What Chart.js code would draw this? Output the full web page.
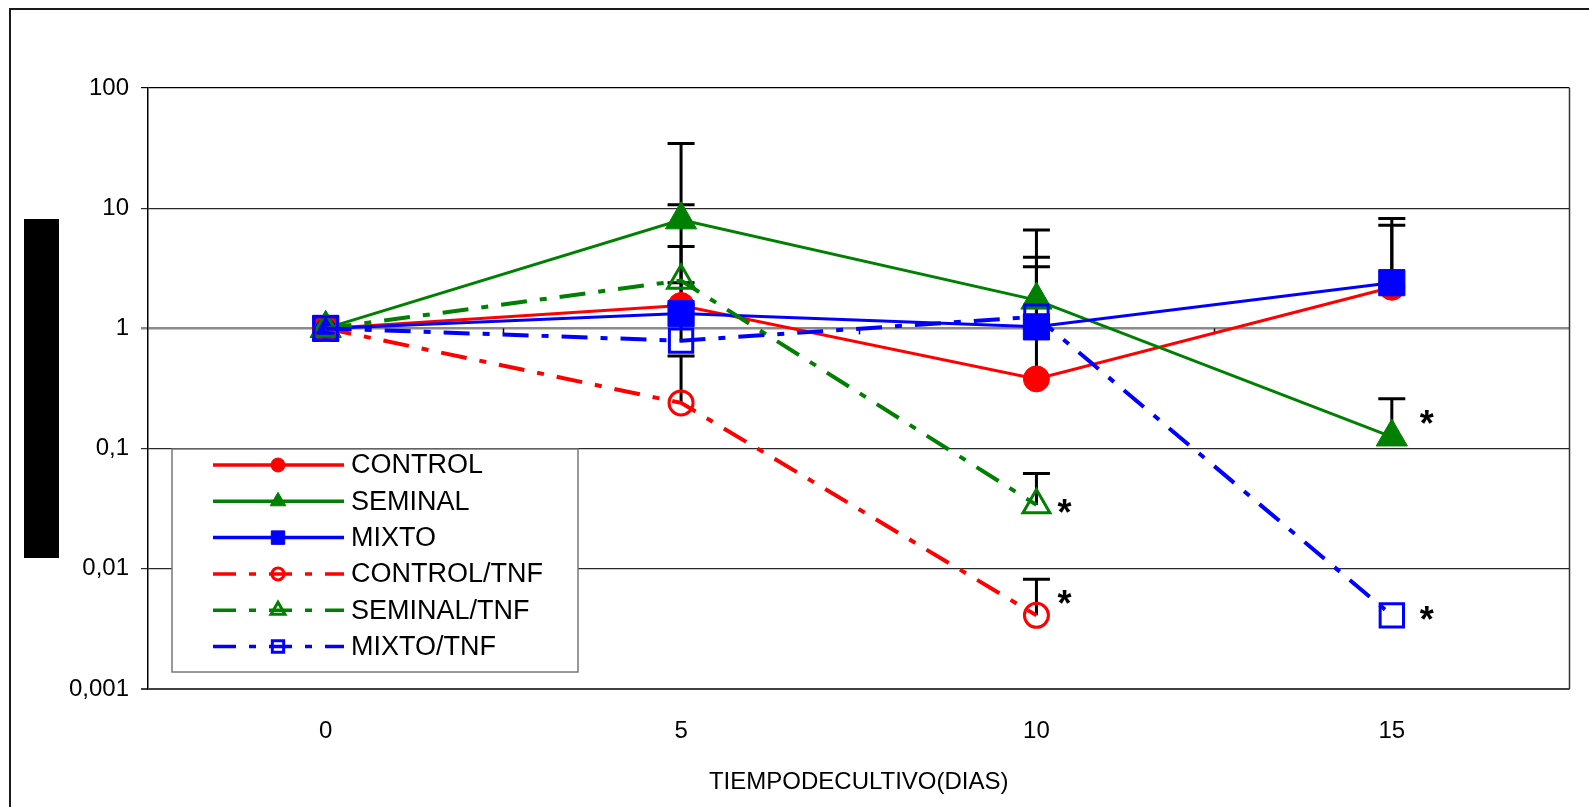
<!DOCTYPE html>
<html>
<head>
<meta charset="utf-8">
<script src="https://cdn.jsdelivr.net/npm/chart.js@4/dist/chart.umd.min.js"></script>
<style>
  body { margin: 0; background: #fff; }
  #wrap { width: 1589px; height: 807px; }
</style>
</head>
<body>
<div id="wrap"><canvas id="cultivoChart" width="1589" height="807"></canvas></div>
<script>
// culture days on the x axis
const dias = ['0', '5', '10', '15'];

const seriesNames = ['CONTROL', 'SEMINAL', 'MIXTO', 'CONTROL/TNF', 'SEMINAL/TNF', 'MIXTO/TNF'];

// mean values per day
const control    = [1, 1.55, 0.38, 2.2];
const seminal    = [1, 8.0, 1.72, 0.125];
const mixto      = [1, 1.33, 1.03, 2.4];
const controlTnf = [1, 0.24, 0.0041, null];
const seminalTnf = [1, 2.5, 0.034, null];
const mixtoTnf   = [1, 0.79, 1.25, 0.0041];

// upper end of each error bar (null = no bar)
const controlErr    = [null, 4.8, 3.9, 7.2];
const seminalErr    = [null, 34.6, 6.6, 0.26];
const mixtoErr      = [null, 2.4, null, 8.2];
const controlTnfErr = [null, 0.59, 0.0082, null];
const seminalTnfErr = [null, 10.7, 0.062, null];
const mixtoTnfErr   = [null, 1.58, 3.25, null];

const yTickValues = [0.001, 0.01, 0.1, 1, 10, 100];
const yTickLabels = ['0,001', '0,01', '0,1', '1', '10', '100'];

// significance marks: series index, day index
const significance = [[4, 2], [3, 2], [1, 3], [5, 3]];

const allValues = [control, seminal, mixto, controlTnf, seminalTnf, mixtoTnf];
const allErrors = [controlErr, seminalErr, mixtoErr, controlTnfErr, seminalTnfErr, mixtoTnfErr];

const RED = '#ff0000', GREEN = '#008000', BLUE = '#0000ff';
const dashDot = [26, 13, 7, 13];
const FONT = '"Liberation Sans", Arial, sans-serif';

const styles = [
  { color: RED,   style: 'circle',   radius: 13,   open: false, legendR: 7 },
  { color: GREEN, style: 'triangle', radius: 18,   open: false, legendR: 9 },
  { color: BLUE,  style: 'rect',     radius: 18.5, open: false, legendR: 9.5 },
  { color: RED,   style: 'circle',   radius: 12,   open: true,  legendR: 6 },
  { color: GREEN, style: 'triangle', radius: 15.5, open: true,  legendR: 8 },
  { color: BLUE,  style: 'rect',     radius: 16.5, open: true,  legendR: 8 }
];

const datasets = seriesNames.map((name, i) => {
  const s = styles[i];
  return {
    label: name,
    data: allValues[i],
    borderColor: s.color,
    borderWidth: s.open ? 4 : 3,
    borderDash: s.open ? dashDot : [],
    pointStyle: s.style,
    pointRadius: s.radius,
    pointBackgroundColor: s.open ? 'transparent' : s.color,
    pointBorderColor: s.color,
    pointBorderWidth: s.open ? 3 : 1,
    tension: 0,
    spanGaps: false,
    order: seriesNames.length - i
  };
});

const chartPlugin = {
  id: 'cultivoDecor',
  beforeDraw(chart) {
    const ctx = chart.ctx;
    ctx.save();
    // outer chart frame
    ctx.strokeStyle = '#1a1a1a';
    ctx.lineWidth = 2;
    ctx.beginPath();
    ctx.moveTo(10, 807);
    ctx.lineTo(10, 9);
    ctx.lineTo(1589, 9);
    ctx.stroke();
    // filled block in the y title slot
    ctx.fillStyle = '#000';
    ctx.fillRect(24, 219, 35, 339);
    ctx.restore();
  },
  beforeDatasetsDraw(chart) {
    const ctx = chart.ctx;
    const area = chart.chartArea;
    const x = chart.scales.x, y = chart.scales.y;
    ctx.save();
    // right border of the plot area
    ctx.strokeStyle = '#333';
    ctx.lineWidth = 1.5;
    ctx.beginPath();
    ctx.moveTo(area.right, area.top);
    ctx.lineTo(area.right, area.bottom);
    ctx.stroke();
    // category axis crosses at 1: small ticks between categories
    const y1 = y.getPixelForValue(1);
    const step = (area.right - area.left) / dias.length;
    ctx.strokeStyle = '#000';
    ctx.lineWidth = 1.5;
    for (let k = 1; k < dias.length; k++) {
      const tx = Math.round(area.left + k * step) + 0.5;
      ctx.beginPath();
      ctx.moveTo(tx, y1);
      ctx.lineTo(tx, y1 + 6);
      ctx.stroke();
    }
    // error bars (upper only)
    ctx.strokeStyle = '#000';
    ctx.lineWidth = 3;
    allErrors.forEach((errs, i) => {
      errs.forEach((e, j) => {
        if (e === null || allValues[i][j] === null) return;
        const px = x.getPixelForValue(j);
        const p0 = y.getPixelForValue(allValues[i][j]);
        const p1 = y.getPixelForValue(e);
        ctx.beginPath();
        ctx.moveTo(px, p0);
        ctx.lineTo(px, p1);
        ctx.moveTo(px - 13.5, p1);
        ctx.lineTo(px + 13.5, p1);
        ctx.stroke();
      });
    });
    ctx.restore();
  },
  afterDatasetsDraw(chart) {
    const ctx = chart.ctx;
    const x = chart.scales.x, y = chart.scales.y;
    ctx.save();
    // asterisks beside the significant points
    const shifts = [[28, 5], [28, -14], [35, -16], [35, 2]];
    ctx.fillStyle = '#000';
    ctx.font = 'bold 36px ' + FONT;
    ctx.textAlign = 'center';
    ctx.textBaseline = 'alphabetic';
    significance.forEach(([s, j], k) => {
      const px = x.getPixelForValue(j) + shifts[k][0];
      const py = y.getPixelForValue(allValues[s][j]) + shifts[k][1];
      ctx.fillText('*', px, py + 15);
    });

    // legend box
    const box = { left: 172, top: 449, right: 578, bottom: 672 };
    ctx.fillStyle = '#fff';
    ctx.fillRect(box.left, box.top, box.right - box.left, box.bottom - box.top);
    ctx.strokeStyle = '#777';
    ctx.lineWidth = 1.5;
    ctx.strokeRect(box.left, box.top, box.right - box.left, box.bottom - box.top);

    ctx.font = '27px ' + FONT;
    ctx.textAlign = 'left';
    ctx.textBaseline = 'middle';
    seriesNames.forEach((name, i) => {
      const s = styles[i];
      const ry = 465 + i * 36.3;
      ctx.strokeStyle = s.color;
      ctx.lineWidth = 3.5;
      ctx.setLineDash(s.open ? [23, 13, 7, 13] : []);
      ctx.beginPath();
      ctx.moveTo(213, ry);
      ctx.lineTo(344, ry);
      ctx.stroke();
      ctx.setLineDash([]);
      ctx.fillStyle = s.open ? 'rgba(0,0,0,0)' : s.color;
      ctx.lineWidth = s.open ? 3 : 1;
      Chart.helpers.drawPoint(ctx, { pointStyle: s.style, radius: s.legendR, rotation: 0, borderWidth: ctx.lineWidth }, 278, ry);
      ctx.fillStyle = '#000';
      ctx.fillText(name, 351, ry + 1);
    });
    ctx.restore();
  }
};

const gridColor = (c) => {
  const v = c.tick && c.tick.value;
  if (v === 1) return '#8a8a8a';
  if (v === 0.001) return '#404040';
  if (v === 100) return '#000';
  return '#2a2a2a';
};
const gridWidth = (c) => {
  const v = c.tick && c.tick.value;
  if (v === 1) return 2.5;
  if (v === 0.001) return 2;
  return 1.2;
};

new Chart(document.getElementById('cultivoChart'), {
  type: 'line',
  data: { labels: dias, datasets: datasets },
  plugins: [chartPlugin],
  options: {
    responsive: false,
    animation: false,
    devicePixelRatio: 1,
    layout: { padding: { left: 0, top: 88, right: 18, bottom: 0 } },
    plugins: { legend: { display: false }, tooltip: { enabled: false } },
    scales: {
      x: {
        type: 'category',
        offset: true,
        grid: { display: false },
        border: { display: false },
        ticks: {
          color: '#000',
          padding: 20,
          font: { family: FONT, size: 24 }
        },
        title: {
          display: true,
          text: 'TIEMPODECULTIVO(DIAS)',
          color: '#000',
          font: { family: FONT, size: 24 },
          padding: { top: 0, bottom: 10 }
        },
        afterFit(scale) { scale.height = 118; }
      },
      y: {
        type: 'logarithmic',
        min: 0.001,
        max: 100,
        border: { display: true, color: '#000', width: 1.5 },
        grid: {
          color: gridColor,
          lineWidth: gridWidth,
          tickColor: gridColor,
          tickLength: 7,
          drawTicks: true
        },
        afterBuildTicks(scale) {
          scale.ticks = yTickValues.map(v => ({ value: v }));
        },
        ticks: {
          color: '#000',
          padding: 12,
          font: { family: FONT, size: 24 },
          callback(value) {
            const k = yTickValues.indexOf(value);
            return k >= 0 ? yTickLabels[k] : '';
          }
        },
        afterFit(scale) { scale.width = 148; }
      }
    }
  }
});
</script>
</body>
</html>
